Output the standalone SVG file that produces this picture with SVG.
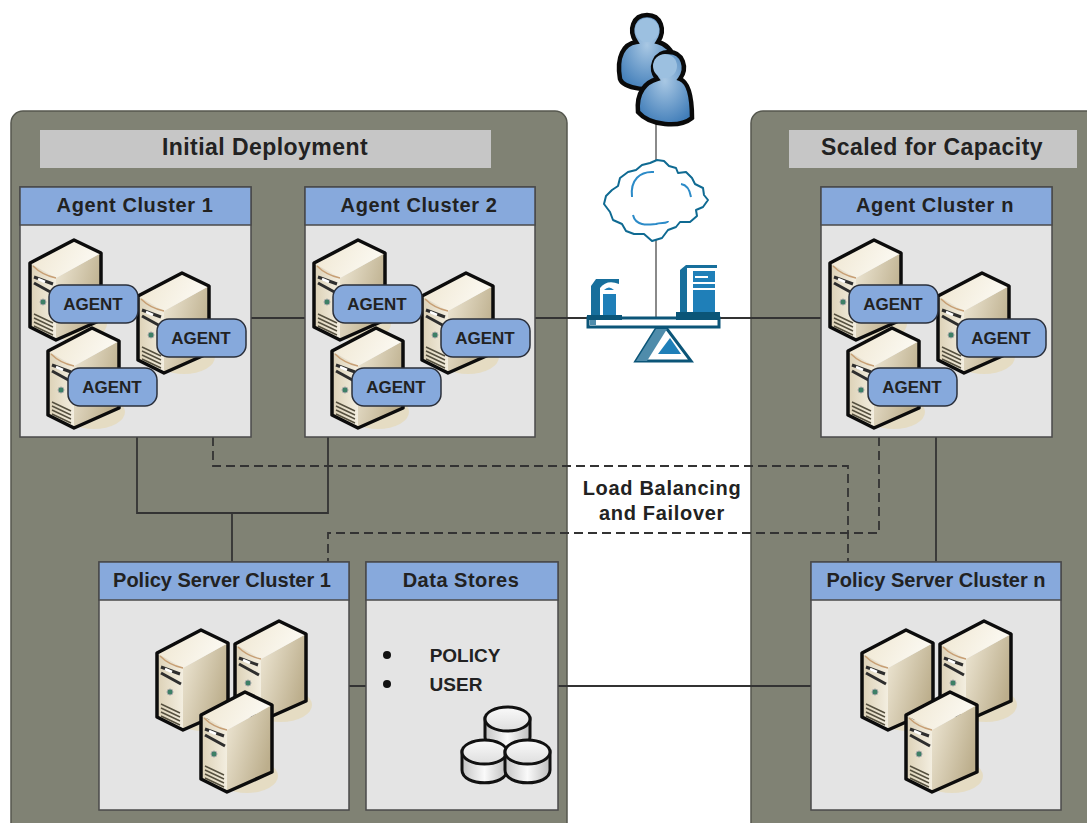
<svg xmlns="http://www.w3.org/2000/svg" width="1087" height="823" viewBox="0 0 1087 823">
<style>
text{font-family:"Liberation Sans",Arial,sans-serif;font-weight:bold;fill:#222;text-anchor:middle}
.panel{fill:#808274;stroke:#55574e;stroke-width:1.5}
.title{fill:#c6c6c6}
.t{font-size:23px;letter-spacing:.45px}
.box{fill:#e4e4e4;stroke:#4a4a4a;stroke-width:1.5}
.hd{fill:#87a9dc;stroke:#4a4a4a;stroke-width:1.5}
.h{font-size:20px;letter-spacing:.6px}
.p{font-size:20px}
.d{font-size:20px;letter-spacing:.5px}
.ag{fill:#86a9dc;stroke:#2a2f3a;stroke-width:1.5}
.a{font-size:17px}
.l{font-size:19px}
.b{font-size:20px;letter-spacing:.7px}
.conn{fill:none;stroke:#333;stroke-width:1.8}
.dash{stroke-dasharray:9 5}
.g{stroke:#8a8a8a;stroke-width:2;fill:none}
.dk{fill:#0b5578}
</style>
<defs>
<linearGradient id="side" x1="0" y1="0" x2="1" y2="0.5"><stop offset="0" stop-color="#efe8d6"/><stop offset="1" stop-color="#bcae8c"/></linearGradient>
<linearGradient id="front" x1="0" y1="0" x2="1" y2="0"><stop offset="0" stop-color="#dcd1b6"/><stop offset="1" stop-color="#f3eee0"/></linearGradient>
<linearGradient id="top" x1="0" y1="0" x2="1" y2="0.3"><stop offset="0" stop-color="#efe6d0"/><stop offset="1" stop-color="#fbf9f2"/></linearGradient>
<linearGradient id="cyl" x1="0" y1="0" x2="1" y2="0"><stop offset="0" stop-color="#c4c4c4"/><stop offset=".5" stop-color="#fafafa"/><stop offset="1" stop-color="#bdbdbd"/></linearGradient>
<linearGradient id="cyt" x1="0" y1="0" x2="0" y2="1"><stop offset="0" stop-color="#fafafa"/><stop offset="1" stop-color="#dedede"/></linearGradient>
<radialGradient id="blue" cx=".5" cy=".4" r=".65"><stop offset="0" stop-color="#a9c8e4"/><stop offset="1" stop-color="#3f7cb8"/></radialGradient>
<symbol id="srv" overflow="visible">
<ellipse cx="46" cy="84" rx="31" ry="17" fill="#e5dcc3"/>
<path d="M26 38L71 13V80L26 100Z" fill="url(#side)"/>
<path d="M0 23V87L26 100V38Z" fill="url(#front)"/>
<path d="M0 23L44 0L71 13L26 38Z" fill="url(#top)"/>
<path d="M3 26Q12 35 26 38" fill="none" stroke="#c79f74" stroke-width="1.5"/>
<path d="M4 37L23 44M4 43L24 54" stroke="#2e2e2e" stroke-width="3" fill="none"/>
<path d="M8 39L15 42" stroke="#fff" stroke-width="2.500"/>
<circle cx="13" cy="62" r="3" fill="#3d7f66" stroke="#aaa"/>
<path d="M4 74L23 83M4 78L23 87M4 82L23 91M4 86L23 95" stroke="#55503f" stroke-width="1.4"/>
<path d="M0 23L44 0L71 13V80L26 100L0 87Z" fill="none" stroke="#0c0c0c" stroke-width="3.500" stroke-linejoin="round"/>
</symbol>
<symbol id="agent" overflow="visible">
<rect width="89" height="38" rx="12" class="ag"/>
<text x="44" y="25" class="a">AGENT</text>
</symbol>
<symbol id="cluster" overflow="visible">
<use href="#srv" x="10" y="53"/>
<use href="#srv" x="118" y="86"/>
<use href="#srv" x="28" y="141"/>
<use href="#agent" x="29" y="98"/>
<use href="#agent" x="137" y="132"/>
<use href="#agent" x="48" y="181"/>
</symbol>
<symbol id="tri" overflow="visible">
<use href="#srv" x="0" y="9"/>
<use href="#srv" x="78" y="0"/>
<use href="#srv" x="44" y="71"/>
</symbol>
<g id="cy"><path d="M0 12V31C0 48 45 48 45 31V12Z" fill="url(#cyl)" stroke="#111" stroke-width="3"/><ellipse cx="22.500" cy="13" rx="22.500" ry="12" fill="url(#cyt)" stroke="#111" stroke-width="3"/></g>
</defs>

<rect class="panel" x="11" y="111" width="556" height="730" rx="12"/>
<rect class="panel" x="751" y="111" width="360" height="730" rx="12"/>
<rect class="title" x="40" y="130" width="451" height="38"/>
<text x="265" y="155" class="t">Initial Deployment</text>
<rect class="title" x="789" y="130" width="288" height="38"/>
<text x="932" y="155" class="t">Scaled for Capacity</text>

<g id="connectors">
<path class="conn" d="M251 318H305M535 318H821"/>
<path class="conn" d="M137 437V513H328V437M232 513V562M936 437V562M349 686H366M558 686H811"/>
<path class="conn dash" d="M213 437V466H848V562"/>
<path class="conn dash" d="M879 437V533H328V562"/>
<path class="g" d="M656 122V165M656 240V318"/>
</g>

<g id="users">
<g stroke="#0a0a0a" stroke-width="4.500" fill="url(#blue)">
<path d="M620 79C616 56 624 44 636 42C628 30 633 15 647 15C661 15 666 30 658 42C666 44 672 50 675 60L670 90C650 90 624 90 620 79Z"/>
<path d="M638 112C636 92 646 82 657 79C649 68 654 52 669 52C683 52 688 68 680 79C688 82 692 96 692 118C680 128 650 126 638 112Z"/>
</g>
<circle cx="647" cy="30" r="12" fill="#9cc0e0"/><circle cx="665" cy="66" r="12" fill="#9cc0e0"/>
</g>

<g id="cloud">
<path d="M657 160L664 161L669 166L676 168L678 173L686 172L692 178L695 184L703 188L704 195L708 200L703 207L696 210L697 216L690 222L680 222L676 227L668 230L662 238L652 241L644 234L634 234L626 231L622 224L613 220L610 212L604 204L606 196L612 190L618 186L620 178L628 172L636 170L642 165L650 163Z" fill="#fff" stroke="#0f6a92" stroke-width="2" stroke-linejoin="round"/>
<path d="M632 197C630 180 640 171 654 172M681 184C688 185 690 191 691 197M633 215C636 228 652 224 656 224C660 222 668 224 668 221" fill="none" stroke="#2c8bc8" stroke-width="2"/>
</g>

<g id="balancer">
<rect x="588" y="318" width="131" height="9" fill="#fff" stroke="#0b5578" stroke-width="3"/>
<path class="dk" d="M587 315H622V320H587ZM676 312H720V320H676Z"/>
<rect x="590" y="320" width="6" height="5" fill="#4f8cab"/>
<path d="M591 315V286L596 279H619V315Z" fill="#176f9c"/>
<path d="M600 315V288Q607 279 619 284V315Z" fill="#fff"/><path d="M603 315V294H616V315Z" fill="#1f7fb8"/><path d="M604 290Q609 285 614 290Z" fill="#1f7fb8"/>
<path d="M680 312V270L686 265H717V312Z" fill="#176f9c"/>
<path d="M687 312V268H717V312Z" fill="#fff"/><path d="M693 312V271H715V312Z" fill="#1f7fb8"/>
<path d="M695 277H708M693 283H715M693 289H715" stroke="#fff" stroke-width="2"/>
<path d="M636 361H691L667 329H656Z" fill="#fff" stroke="#0b5578" stroke-width="3"/>
<path d="M636 361L656 329H667L647 361Z" fill="#4f8cab"/>
<path d="M658 354H681L670 338Z" fill="#1f7fb8"/>
</g>

<g id="agent-cluster-1">
<rect class="box" x="20" y="187" width="231" height="250"/><rect class="hd" x="20" y="187" width="231" height="38"/>
<text x="135" y="212" class="h">Agent Cluster 1</text>
<use href="#cluster" x="20" y="187"/>
</g>
<g id="agent-cluster-2">
<rect class="box" x="305" y="187" width="230" height="250"/><rect class="hd" x="305" y="187" width="230" height="38"/>
<text x="419" y="212" class="h">Agent Cluster 2</text>
<use href="#cluster" x="304" y="187"/>
</g>
<g id="agent-cluster-n">
<rect class="box" x="821" y="187" width="231" height="250"/><rect class="hd" x="821" y="187" width="231" height="38"/>
<text x="935" y="212" class="h">Agent Cluster n</text>
<use href="#cluster" x="820" y="187"/>
</g>
<g id="policy-cluster-1">
<rect class="box" x="99" y="562" width="250" height="248"/><rect class="hd" x="99" y="562" width="250" height="38"/>
<text x="222" y="587" class="p">Policy Server Cluster 1</text>
<use href="#tri" x="157" y="621"/>
</g>
<g id="data-stores">
<rect class="box" x="366" y="562" width="192" height="248"/><rect class="hd" x="366" y="562" width="192" height="38"/>
<text x="461" y="587" class="d">Data Stores</text>
<circle cx="387" cy="655" r="4" fill="#111"/><circle cx="387" cy="684" r="4" fill="#111"/>
<text x="465" y="662" class="l">POLICY</text>
<text x="456" y="691" class="l">USER</text>
<use href="#cy" x="485" y="706"/><use href="#cy" x="462" y="739"/><use href="#cy" x="505" y="739"/>
</g>
<g id="policy-cluster-n">
<rect class="box" x="811" y="562" width="250" height="248"/><rect class="hd" x="811" y="562" width="250" height="38"/>
<text x="936" y="587" class="p">Policy Server Cluster n</text>
<use href="#tri" x="862" y="621"/>
</g>
<g id="label"><text x="662" y="495" class="b">Load Balancing</text><text x="662" y="520" class="b">and Failover</text></g>
</svg>
